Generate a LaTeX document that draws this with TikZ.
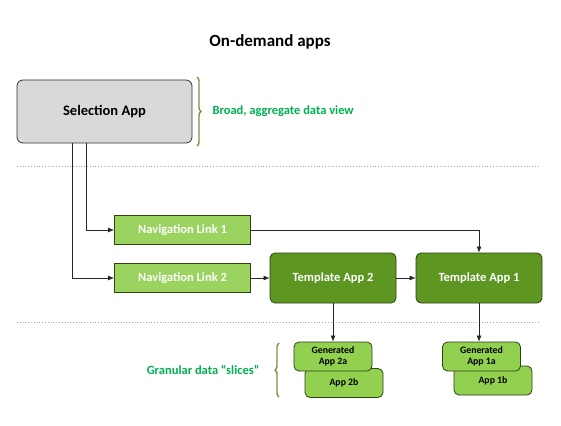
\documentclass[tikz,border=0pt]{standalone}
\usepackage{fontspec}
\setmainfont{Carlito}
\usepackage{tikz}
\usetikzlibrary{arrows.meta,positioning,calc,decorations.pathreplacing}
\definecolor{selgray}{HTML}{D9D9D9}
\definecolor{navgreen}{HTML}{9BD35F}
\definecolor{tplgreen}{HTML}{5E9622}
\definecolor{gengreen}{HTML}{92D050}
\definecolor{darkrim}{HTML}{2E4212}
\definecolor{notegreen}{HTML}{00B050}
\definecolor{bracegreen}{HTML}{77933C}

\begin{document}
\begin{tikzpicture}[x=1pt,y=-1pt,
  selbox/.style={draw=black!80,fill=selgray,rounded corners=6pt,line width=0.8pt,
    minimum width=175pt,minimum height=63pt,font=\fontsize{14.5}{16}\selectfont\bfseries},
  navbox/.style={draw=darkrim,fill=navgreen,line width=0.8pt,text=white,
    minimum width=136pt,minimum height=29pt,font=\fontsize{12.5}{14}\selectfont\bfseries},
  tplbox/.style={draw=darkrim,fill=tplgreen,rounded corners=5pt,line width=0.8pt,text=white,
    minimum width=126pt,minimum height=50pt,font=\fontsize{12.5}{14}\selectfont\bfseries},
  genbox/.style={draw=darkrim,fill=gengreen,rounded corners=5pt,line width=0.8pt,
    minimum width=78pt,minimum height=29pt,align=center,
    font=\fontsize{9.8}{11.5}\selectfont\bfseries},
  link/.style={draw=black!85,line width=0.7pt,-{Latex[length=6pt,width=5pt]}},
  note/.style={text=notegreen,font=\fontsize{12.5}{14}\selectfont\bfseries},
  sep/.style={draw=black!35,dotted,line width=0.8pt},
  brc/.style={draw=bracegreen,line width=1.4pt,decorate,
    decoration={brace,amplitude=4pt}}]
\useasboundingbox (0,0) rectangle (561,425);

\node[font=\fontsize{17}{19}\selectfont\bfseries] (title) at (270,42) {On-demand apps};

\node[selbox] (sel) at (104.5,111.5) {Selection App};
\draw[brc] (197,77) -- (197,146);
\node[note,anchor=west] (broad) at (209,111) {Broad, aggregate data view};

\draw[sep] (17,166) -- (540,166);
\draw[sep] (17,322) -- (540,322);

\node[navbox] (nav1) at (182.5,230) {Navigation Link 1};
\node[navbox] (nav2) at (182.5,278) {Navigation Link 2};
\node[tplbox] (tpl2) at (333,278) {Template App 2};
\node[tplbox] (tpl1) at (479,278) {Template App 1};

\node[genbox] (gen2b) at (344,383) {App 2b};
\node[genbox] (gen2a) at (333,356.5) {Generated\\App 2a};
\node[genbox] (gen1b) at (493,380.5) {App 1b};
\node[genbox] (gen1a) at (481.5,356.5) {Generated\\App 1a};

\draw[brc] (279,397) -- (279,343);
\node[note] (slices) at (203,370) {Granular data “slices”};

\coordinate (s1) at (86,143);
\coordinate (s2) at (72,143);
\draw[link] (s1) |- (nav1.west);
\draw[link] (s2) |- (nav2.west);
\draw[link] (nav1.east) -| (tpl1.north);
\draw[link] (nav2) -- (tpl2);
\draw[link] (tpl2) -- (tpl1);
\draw[link] (tpl2.south) -- (gen2a.north);
\draw[link] (tpl1.south) -- (tpl1.south |- gen1a.north);
\end{tikzpicture}
\end{document}
